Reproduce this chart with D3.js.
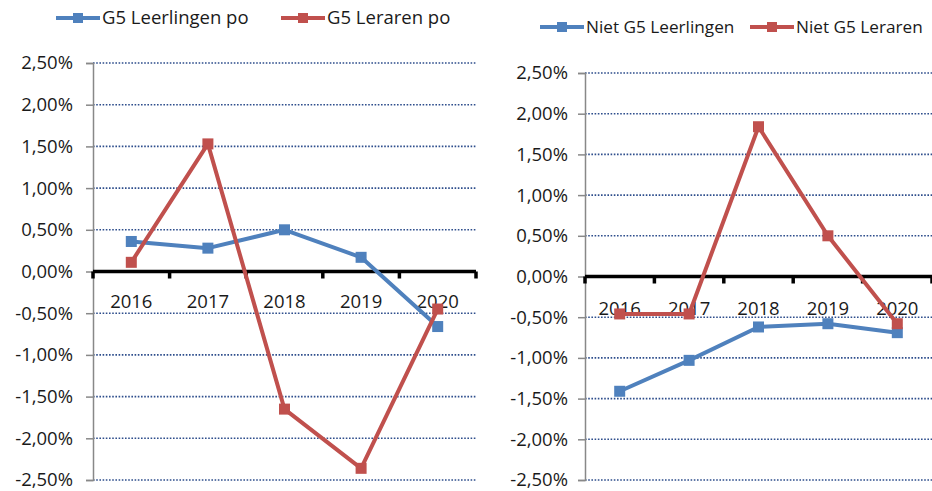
<!DOCTYPE html>
<html>
<head>
<meta charset="utf-8">
<script src="https://cdn.jsdelivr.net/npm/d3@7"></script>
<style>
  body { margin: 0; background: #fff; }
  text { font-family: "Open Sans", Lato, sans-serif; fill: #1a1a1a; }
</style>
</head>
<body>
<div id="chart"></div>
<script>
// Data
var years = ["2016", "2017", "2018", "2019", "2020"];
var yTicks = [2.5, 2, 1.5, 1, 0.5, 0, -0.5, -1, -1.5, -2, -2.5];

var g5Leerlingen = [0.36, 0.28, 0.50, 0.17, -0.66];
var g5Leraren = [0.11, 1.53, -1.65, -2.36, -0.45];
var nietG5Leerlingen = [-1.41, -1.03, -0.62, -0.58, -0.69];
var nietG5Leraren = [-0.46, -0.46, 1.84, 0.50, -0.58];

var blue = "#4F81BD", red = "#C0504D";
var fontSize = "18.5px";

var svg = d3.select("#chart")
    .append("svg")
    .attr("width", 932)
    .attr("height", 491);

// Format like "2,50%"
function fmt(v) {
    return d3.format(".2f")(v).replace(".", ",").replace("−", "-") + "%";
}

// Draw one panel
function drawPanel(cfg) {
    var g = svg.append("g");

    var x = d3.scaleBand().domain(years).range([cfg.left, cfg.right]);
    var y = d3.scaleLinear().domain([-2.5, 2.5]).range([cfg.bottom, cfg.top]);

    // dotted gridlines
    g.selectAll(".grid")
        .data(yTicks.filter(d => d !== 0))
        .enter()
        .append("line")
        .attr("x1", cfg.left)
        .attr("x2", cfg.right)
        .attr("y1", d => y(d))
        .attr("y2", d => y(d))
        .style("stroke", "#2E4E8C")
        .style("stroke-width", 1.6)
        .style("stroke-dasharray", "1.6,1.6");

    // vertical axis
    var yAxis = d3.axisLeft(y).tickValues(yTicks).tickSize(7).tickFormat(fmt);
    var ya = g.append("g")
        .attr("transform", "translate(" + cfg.left + ",0)")
        .call(yAxis);
    ya.select(".domain").style("stroke", "#888").style("stroke-width", 1.5);
    ya.selectAll(".tick line").style("stroke", "#888").style("stroke-width", 1.5);
    ya.selectAll(".tick text")
        .attr("x", cfg.labelX - cfg.left)
        .style("font-family", "'Open Sans', Lato, sans-serif")
        .style("font-size", fontSize)
        .style("fill", "#1a1a1a");

    // zero line with category ticks
    g.append("line")
        .attr("x1", cfg.left)
        .attr("x2", cfg.right)
        .attr("y1", y(0))
        .attr("y2", y(0))
        .style("stroke", "#000")
        .style("stroke-width", 3.5);
    g.selectAll(".ctick")
        .data(years.concat(["end"]))
        .enter()
        .append("line")
        .attr("x1", (d, i) => cfg.left + i * x.bandwidth())
        .attr("x2", (d, i) => cfg.left + i * x.bandwidth())
        .attr("y1", y(0))
        .attr("y2", y(0) + 7)
        .style("stroke", "#000")
        .style("stroke-width", 3.5);

    // year labels
    g.selectAll(".year")
        .data(years)
        .enter()
        .append("text")
        .attr("x", d => x(d) + x.bandwidth() / 2)
        .attr("y", y(0) + cfg.yearDy)
        .attr("text-anchor", "middle")
        .style("font-size", fontSize)
        .text(d => d);

    var line = d3.line()
        .x((d, i) => x(years[i]) + x.bandwidth() / 2)
        .y(d => y(d));

    cfg.series.forEach(function (s) {
        g.append("path")
            .datum(s.values)
            .attr("d", line)
            .style("fill", "none")
            .style("stroke", s.color)
            .style("stroke-width", 4)
            .style("stroke-linejoin", "round");
        g.selectAll(null)
            .data(s.values)
            .enter()
            .append("rect")
            .attr("x", (d, i) => x(years[i]) + x.bandwidth() / 2 - 5.5)
            .attr("y", d => y(d) - 5.5)
            .attr("width", 11)
            .attr("height", 11)
            .style("fill", s.color);
    });

    // legend
    cfg.series.forEach(function (s, i) {
        var lx = cfg.legendX[i];
        g.append("line")
            .attr("x1", lx)
            .attr("x2", lx + 44)
            .attr("y1", cfg.legendY)
            .attr("y2", cfg.legendY)
            .style("stroke", s.color)
            .style("stroke-width", 4);
        g.append("rect")
            .attr("x", lx + 17)
            .attr("y", cfg.legendY - 5)
            .attr("width", 10)
            .attr("height", 10)
            .style("fill", s.color);
        g.append("text")
            .attr("x", lx + 46)
            .attr("y", cfg.legendY)
            .attr("dy", "0.35em")
            .style("font-size", cfg.legendFont)
            .text(s.name);
    });
}

drawPanel({
    left: 93, right: 476, top: 63, bottom: 480, labelX: 73, yearDy: 36,
    legendY: 18, legendX: [56, 281], legendFont: "18.5px",
    series: [
        { name: "G5 Leerlingen po", values: g5Leerlingen, color: blue },
        { name: "G5 Leraren po", values: g5Leraren, color: red }
    ]
});

drawPanel({
    left: 585, right: 932, top: 73, bottom: 480, labelX: 568, yearDy: 38,
    legendY: 27, legendX: [540, 750], legendFont: "17.2px",
    series: [
        { name: "Niet G5 Leerlingen", values: nietG5Leerlingen, color: blue },
        { name: "Niet G5 Leraren", values: nietG5Leraren, color: red }
    ]
});
</script>
</body>
</html>
